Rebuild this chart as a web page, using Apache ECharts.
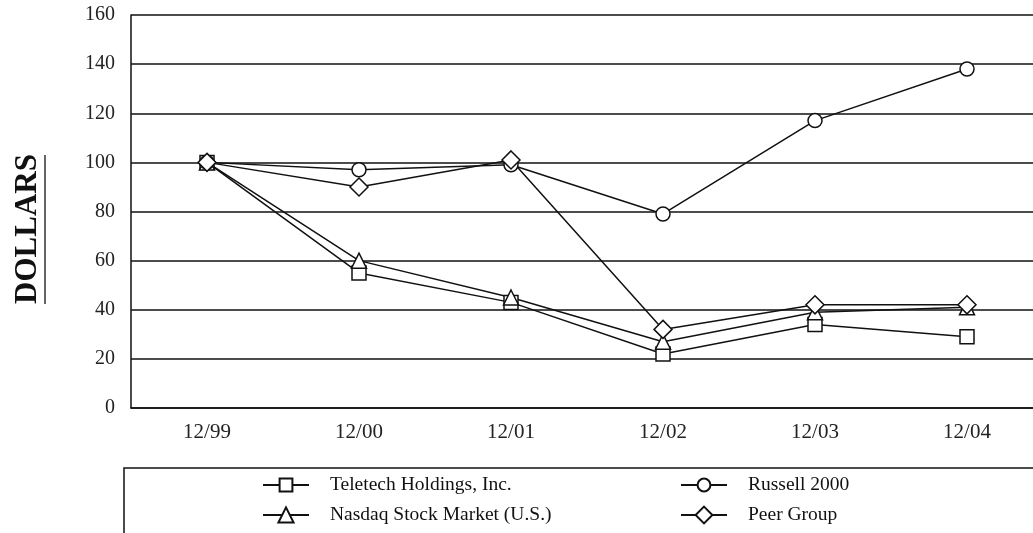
<!DOCTYPE html>
<html>
<head>
<meta charset="utf-8">
<script src="https://cdn.jsdelivr.net/npm/echarts@6/dist/echarts.min.js"></script>
<style>html,body{margin:0;padding:0;background:#fff;}#c{width:1033px;height:533px;}</style>
</head>
<body>
<div id="c"></div>
<script>
var categories = ['12/99', '12/00', '12/01', '12/02', '12/03', '12/04'];
var teletech = [100, 55, 43, 22, 34, 29];
var nasdaq = [100, 60, 45, 27, 39, 41];
var russell = [100, 97, 99, 79, 117, 138];
var peer = [100, 90, 101, 32, 42, 42];
var yTicks = { min: 0, max: 160, interval: 20 };

var font = 'Liberation Serif';
var ink = '#111';

function mkSeries(name, data, symbol, size) {
  return {
    name: name, type: 'line', data: data, symbol: symbol, symbolSize: size,
    showAllSymbol: true,
    lineStyle: { color: ink, width: 1.5 },
    itemStyle: { color: '#fff', borderColor: ink, borderWidth: 1.5 },
    emphasis: { disabled: true },
    z: 3
  };
}

function mkLegend(name, left, top, iconH) {
  return {
    data: [name], orient: 'vertical', left: left, top: top, padding: 0,
    itemWidth: 46, itemHeight: iconH,
    textStyle: { fontFamily: font, fontSize: 19.5, lineHeight: 22, color: '#111', padding: [0, 0, 0, 16] }
  };
}

var chart = echarts.init(document.getElementById('c'));
chart.setOption({
  animation: false,
  backgroundColor: '#fff',
  grid: { left: 131, top: 15, width: 912, height: 393, outerBoundsMode: 'none', containLabel: false },
  xAxis: {
    type: 'category', data: categories, boundaryGap: true,
    axisLine: { lineStyle: { color: ink, width: 1.5 } },
    axisTick: { alignWithLabel: true, length: 6, lineStyle: { color: ink, width: 1.5 } },
    axisLabel: { color: '#222', fontFamily: font, fontSize: 21, margin: 14 },
    splitLine: { show: false }
  },
  yAxis: {
    type: 'value', min: yTicks.min, max: yTicks.max, interval: yTicks.interval,
    axisLine: { show: true, lineStyle: { color: ink, width: 1.5 } },
    axisTick: { show: false },
    axisLabel: { color: '#222', fontFamily: font, fontSize: 20, margin: 16 },
    splitLine: { show: true, lineStyle: { color: ink, width: 1.6 } }
  },
  legend: [
    mkLegend('Teletech Holdings, Inc.', 262, 474, 16),
    mkLegend('Nasdaq Stock Market (U.S.)', 262, 504, 19),
    mkLegend('Russell 2000', 680, 474, 16),
    mkLegend('Peer Group', 680, 504, 21)
  ],
  graphic: [
    { type: 'rect', shape: { x: 124, y: 468, width: 960, height: 120 },
      style: { fill: 'none', stroke: ink, lineWidth: 1.5 }, z: 0 },
    { type: 'text', x: 28, y: 229, rotation: Math.PI / 2,
      style: { text: 'DOLLARS', fontFamily: font, fontSize: 31, fontWeight: 'bold', fill: '#111',
        align: 'center', verticalAlign: 'middle' } },
    { type: 'line', shape: { x1: 45, y1: 155, x2: 45, y2: 304 },
      style: { stroke: '#333', lineWidth: 1.5 } }
  ],
  series: [
    mkSeries('Teletech Holdings, Inc.', teletech, 'rect', 14),
    mkSeries('Nasdaq Stock Market (U.S.)', nasdaq, 'triangle', 15),
    mkSeries('Russell 2000', russell, 'circle', 14),
    mkSeries('Peer Group', peer, 'diamond', 18)
  ]
});
</script>
</body>
</html>
